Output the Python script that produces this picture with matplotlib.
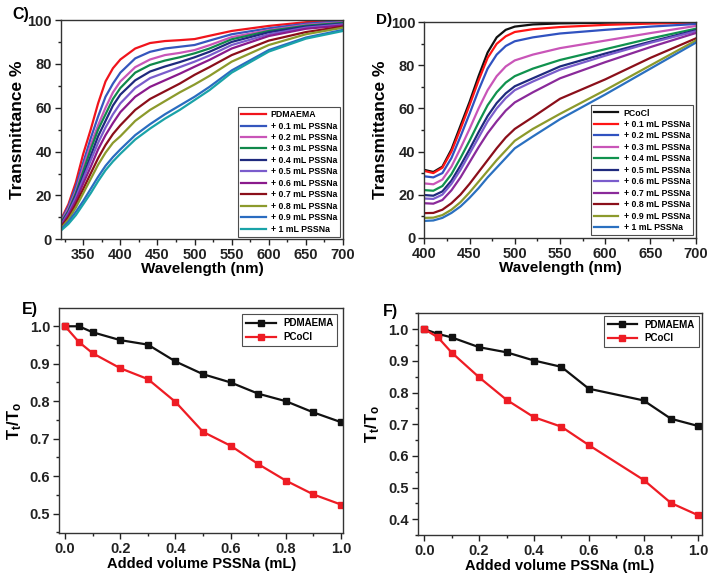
import numpy as np
import matplotlib
matplotlib.use("Agg")
import matplotlib.pyplot as plt
from matplotlib.ticker import MultipleLocator

plt.rcParams['font.family'] = ['Liberation Sans', 'DejaVu Sans']
plt.rcParams['font.weight'] = 'bold'
plt.rcParams['mathtext.fontset'] = 'custom'
plt.rcParams['mathtext.rm'] = 'Liberation Sans:bold'
plt.rcParams['mathtext.bf'] = 'Liberation Sans:bold'
plt.rcParams['mathtext.it'] = 'Liberation Sans:bold'

# ---------------- Panel C data ----------------
wl_c = [320, 330, 340, 350, 360, 370, 380, 390, 400, 420, 440, 460, 480, 500, 520, 550, 600, 650, 700]
labels_c = ["PDMAEMA", "+ 0.1 mL PSSNa", "+ 0.2 mL PSSNa", "+ 0.3 mL PSSNa", "+ 0.4 mL PSSNa",
            "+ 0.5 mL PSSNa", "+ 0.6 mL PSSNa", "+ 0.7 mL PSSNa", "+ 0.8 mL PSSNa",
            "+ 0.9 mL PSSNa", "+ 1 mL PSSNa"]
colors_c = ['#f0141c', '#3556bd', '#c955b8', '#10884a', '#1f2a7e', '#7a5ccc',
            '#8a1a8c', '#8b0f1a', '#8c9a2c', '#2a6cc0', '#1aa3a8']
t_c_0 = [9, 16, 26, 39, 50, 62, 72, 78, 82, 87, 89.5, 90.4, 90.8, 91.3, 92.8, 95, 97.3, 99, 99.8]
t_c_1 = [8.5, 15, 24, 35, 46, 56, 65, 71, 76, 82.5, 85.5, 87, 87.8, 88.6, 90.6, 93.5, 96.2, 98.3, 99.5]
t_c_2 = [8, 14, 22, 33, 43, 52, 60, 67, 72, 78.5, 82, 84, 85, 86.3, 88.5, 92.2, 95.4, 97.8, 99]
t_c_3 = [7.5, 13, 21, 31, 41, 50, 57, 64, 69, 76, 79.5, 81.5, 83, 84.8, 87, 91.2, 95, 97.4, 98.7]
t_c_4 = [7, 12.5, 20, 29, 38, 47, 54, 61, 66, 72.5, 76.5, 78.8, 80.8, 83, 85.5, 90, 94.4, 97, 98.3]
t_c_5 = [6.5, 12, 19, 27.5, 36, 44, 51, 57, 62, 69, 73.5, 76, 78.5, 81, 83.8, 88.6, 93.5, 96.5, 98]
t_c_6 = [6, 11, 17.5, 25.5, 33, 41, 47.5, 53, 58, 65, 69.5, 72.5, 75.5, 78.7, 81.8, 87, 92.7, 96, 97.5]
t_c_7 = [5.5, 10, 16, 23, 30, 37, 43, 48, 52, 59, 64, 67.5, 71, 75, 78.5, 84, 90.6, 94.5, 97]
t_c_8 = [5, 9, 14.5, 21, 27.5, 34, 39.5, 44, 47, 54, 59, 63, 67, 70.6, 74.5, 81, 88.6, 93.5, 96.5]
t_c_9 = [4.5, 8, 12.5, 17.5, 23, 28.5, 33.5, 37.5, 41, 47.5, 52.5, 57, 61, 65, 69.5, 77, 86.3, 92, 95.5]
t_c_10 = [4, 7, 11, 16, 21, 26.5, 31.5, 35.5, 39, 45.5, 50.5, 55, 59, 63.5, 68, 76, 85.6, 91.5, 95]
series_c = [t_c_0, t_c_1, t_c_2, t_c_3, t_c_4, t_c_5, t_c_6, t_c_7, t_c_8, t_c_9, t_c_10]

# ---------------- Panel D data ----------------
wl_d = [400, 410, 420, 430, 440, 450, 460, 470, 480, 490, 500, 520, 550, 600, 650, 700]
labels_d = ["PCoCl", "+ 0.1 mL PSSNa", "+ 0.2 mL PSSNa", "+ 0.3 mL PSSNa", "+ 0.4 mL PSSNa",
            "+ 0.5 mL PSSNa", "+ 0.6 mL PSSNa", "+ 0.7 mL PSSNa", "+ 0.8 mL PSSNa",
            "+ 0.9 mL PSSNa", "+ 1 mL PSSNa"]
colors_d = ['#111111', '#ff1414', '#3052c0', '#c955b8', '#10924e', '#1f2a7e',
            '#7a5ccc', '#8a2a9a', '#8b0f1a', '#8c9a2c', '#2a70c0']
t_d_0 = [31.5, 30.5, 33, 41, 52, 63, 75, 86, 93, 96.5, 98, 99, 99.5, 99.8, 100, 100]
t_d_1 = [31, 30, 32.5, 40, 50.5, 61.5, 73, 83.5, 90, 93.5, 95.5, 96.8, 97.8, 98.8, 99.4, 99.8]
t_d_2 = [28.5, 28, 30, 37, 47, 57.5, 68.5, 78.5, 85, 89, 91.2, 93, 94.8, 96.5, 98, 99.2]
t_d_3 = [25.2, 24.8, 27, 33, 41.5, 50.5, 60, 68.5, 75, 79.5, 82.3, 85, 88, 91.5, 95, 98.3]
t_d_4 = [22.1, 21.8, 24, 29.5, 37, 45, 53.5, 61.5, 67.5, 72, 75, 78.5, 82.5, 87.5, 92.5, 97]
t_d_5 = [19.8, 19.5, 21.5, 26.5, 33.5, 41, 49, 56.5, 62.5, 67, 70.3, 74, 79.5, 85.5, 91, 96.3]
t_d_6 = [18.2, 18, 20, 25, 31.5, 39, 46.5, 54, 60, 64.8, 68.5, 72.5, 78, 84.5, 90.5, 95.8]
t_d_7 = [16, 15.8, 17.5, 22, 28, 35, 42, 48.5, 54, 59, 62.8, 67.5, 74, 81.5, 88.5, 95]
t_d_8 = [11.4, 11.5, 13, 16, 20, 25, 30.5, 36, 41.5, 46.5, 50.5, 56, 64.5, 73.5, 83.5, 92.5]
t_d_9 = [9.2, 9.3, 10.5, 13, 16.5, 21, 26, 31, 36, 40.5, 45, 50.5, 57.5, 68.5, 80, 91.5]
t_d_10 = [7.8, 8, 9.2, 11.5, 14.5, 18.5, 23, 28, 32.5, 37, 41.5, 47, 55, 66.5, 78.5, 90.5]
series_d = [t_d_0, t_d_1, t_d_2, t_d_3, t_d_4, t_d_5, t_d_6, t_d_7, t_d_8, t_d_9, t_d_10]

# ---------------- Panel E data ----------------
vol_e = [0, 0.05, 0.1, 0.2, 0.3, 0.4, 0.5, 0.6, 0.7, 0.8, 0.9, 1.0]
pdmaema_e = [1.0, 1.0, 0.984, 0.963, 0.951, 0.906, 0.872, 0.850, 0.820, 0.800, 0.770, 0.744]
pcocl_e = [1.0, 0.958, 0.928, 0.888, 0.859, 0.798, 0.718, 0.681, 0.632, 0.588, 0.551, 0.524]

# ---------------- Panel F data ----------------
vol_f = [0, 0.05, 0.1, 0.2, 0.3, 0.4, 0.5, 0.6, 0.8, 0.9, 1.0]
pdmaema_f = [1.0, 0.985, 0.974, 0.943, 0.927, 0.901, 0.881, 0.812, 0.775, 0.717, 0.694]
pcocl_f = [1.0, 0.974, 0.926, 0.848, 0.777, 0.722, 0.692, 0.634, 0.524, 0.451, 0.412]

W, H = 714, 580
fig = plt.figure(figsize=(W / 100, H / 100), dpi=100)


def add_ax(l, r, t, b):
    return fig.add_axes([l / W, 1 - b / H, (r - l) / W, (b - t) / H])


def style(ax):
    for s in ax.spines.values():
        s.set_linewidth(1.0)
        s.set_color('#333333')
    ax.tick_params(which='both', direction='out', top=False, right=False,
                   labelsize=10.5, width=1.0, colors='#222222', pad=2.5)
    ax.tick_params(which='major', length=4)
    ax.tick_params(which='minor', length=2.5)
    for lab in ax.get_xticklabels() + ax.get_yticklabels():
        lab.set_fontweight('bold')


def style_legend(leg):
    leg.get_frame().set_linewidth(0.8)
    for t in leg.get_texts():
        t.set_fontweight('bold')


# Panel C
axC = add_ax(61, 343, 20, 239.3)
for y, c, lb in zip(series_c, colors_c, labels_c):
    axC.plot(wl_c, y, color=c, lw=1.6, label=lb)
axC.set_xlim(320, 700)
axC.set_ylim(0, 100)
axC.set_xticks([350, 400, 450, 500, 550, 600, 650, 700])
axC.xaxis.set_minor_locator(MultipleLocator(25))
axC.yaxis.set_major_locator(MultipleLocator(20))
axC.yaxis.set_minor_locator(MultipleLocator(10))
style(axC)
axC.set_xlabel("Wavelength (nm)", labelpad=0, fontsize=11, fontweight='bold')
axC.set_ylabel("Transmittance %", labelpad=2, fontsize=12.5, fontweight='bold')
legC = axC.legend(loc='lower right', fontsize=6.3, frameon=True, fancybox=False,
                  edgecolor='#222222', handlelength=2.8, labelspacing=0.28,
                  borderaxespad=0.3, borderpad=0.35, handletextpad=0.6)
style_legend(legC)

# Panel D
axD = add_ax(424.3, 695.7, 22.3, 237.7)
for y, c, lb in zip(series_d, colors_d, labels_d):
    axD.plot(wl_d, y, color=c, lw=1.6, label=lb)
axD.set_xlim(400, 700)
axD.set_ylim(0, 100)
axD.xaxis.set_major_locator(MultipleLocator(50))
axD.xaxis.set_minor_locator(MultipleLocator(25))
axD.yaxis.set_major_locator(MultipleLocator(20))
axD.yaxis.set_minor_locator(MultipleLocator(10))
style(axD)
axD.set_xlabel("Wavelength (nm)", labelpad=0, fontsize=11, fontweight='bold')
axD.set_ylabel("Transmittance %", labelpad=2, fontsize=12.5, fontweight='bold')
legD = axD.legend(loc='lower right', fontsize=6.3, frameon=True, fancybox=False,
                  edgecolor='#222222', handlelength=2.8, labelspacing=0.28,
                  borderaxespad=0.3, borderpad=0.35, handletextpad=0.6)
style_legend(legD)

# Panel E
axE = add_ax(59.3, 343.3, 308.3, 532.7)
axE.plot(vol_e, pdmaema_e, color='#111111', lw=1.6, marker='s', ms=4, label='PDMAEMA')
axE.plot(vol_e, pcocl_e, color='#ee1c24', lw=1.6, marker='s', ms=4, label='PCoCl')
axE.set_xlim(-0.021, 1.008)
axE.set_ylim(0.449, 1.048)
axE.xaxis.set_major_locator(MultipleLocator(0.2))
axE.xaxis.set_minor_locator(MultipleLocator(0.1))
axE.yaxis.set_major_locator(MultipleLocator(0.1))
axE.yaxis.set_minor_locator(MultipleLocator(0.05))
style(axE)
axE.set_xlabel("Added volume PSSNa (mL)", labelpad=1, fontsize=10.5, fontweight='bold')
axE.set_ylabel(r"T$_{\mathrm{t}}$/T$_{\mathrm{o}}$", labelpad=4, fontsize=12, fontweight='bold')
legE = axE.legend(loc='upper right', fontsize=7, frameon=True, fancybox=False,
                  edgecolor='#222222', handlelength=3.0, borderaxespad=0.6,
                  labelspacing=0.4, handletextpad=0.8)
style_legend(legE)

# Panel F
axF = add_ax(417.7, 701.7, 312.7, 535)
axF.plot(vol_f, pdmaema_f, color='#111111', lw=1.6, marker='s', ms=4, label='PDMAEMA')
axF.plot(vol_f, pcocl_f, color='#ee1c24', lw=1.6, marker='s', ms=4, label='PCoCl')
axF.set_xlim(-0.024, 1.012)
axF.set_ylim(0.35, 1.052)
axF.xaxis.set_major_locator(MultipleLocator(0.2))
axF.xaxis.set_minor_locator(MultipleLocator(0.1))
axF.yaxis.set_major_locator(MultipleLocator(0.1))
axF.yaxis.set_minor_locator(MultipleLocator(0.05))
style(axF)
axF.set_xlabel("Added volume PSSNa (mL)", labelpad=1, fontsize=10.5, fontweight='bold')
axF.set_ylabel(r"T$_{\mathrm{t}}$/T$_{\mathrm{o}}$", labelpad=4, fontsize=12, fontweight='bold')
legF = axF.legend(loc='upper right', fontsize=7, frameon=True, fancybox=False,
                  edgecolor='#222222', handlelength=3.0, borderaxespad=0.3,
                  labelspacing=0.4, handletextpad=0.8)
style_legend(legF)

# panel letters
fig.text(12 / W, 1 - 19 / H, "C)", fontsize=11.5, fontweight='bold')
fig.text(376 / W, 1 - 24 / H, "D)", fontsize=11, fontweight='bold')
fig.text(22 / W, 1 - 314 / H, "E)", fontsize=11.5, fontweight='bold')
fig.text(383 / W, 1 - 316 / H, "F)", fontsize=11.5, fontweight='bold')

fig.savefig("out.png", dpi=100)
